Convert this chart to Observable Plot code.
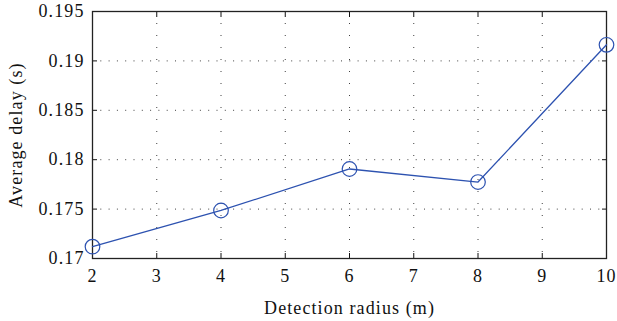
<!DOCTYPE html>
<html>
<head>
<meta charset="utf-8">
<script src="https://cdn.jsdelivr.net/npm/d3@7"></script>
<script src="https://cdn.jsdelivr.net/npm/@observablehq/plot@0.6"></script>
<style>
  body { margin: 0; background: #fff; }
  #chart svg { display: block; }
  #chart svg text { letter-spacing: 1.1px; }
</style>
</head>
<body>
<div id="chart"></div>
<script>
// Detection radius (m) and the measured average delay (s)
const radius = [2, 4, 6, 8, 10];
const avgDelay = [0.1712, 0.17486, 0.17906, 0.17774, 0.19163];

// Axis ticks
const xTicks = [2, 3, 4, 5, 6, 7, 8, 9, 10];
const yTicks = [0.17, 0.175, 0.18, 0.185, 0.19, 0.195];

const data = radius.map((r, i) => ({radius: r, delay: avgDelay[i]}));

const lineColor = "#2d52b0";
const serif = "Liberation Serif";
const textSize = 18;
const noLabel = () => "";

const chart = Plot.plot({
  width: 617,
  height: 321,
  marginLeft: 92,
  marginRight: 11,
  marginTop: 11,
  marginBottom: 63,
  style: `font-family: ${serif}; font-size: ${textSize}px; color: #111; background: #fff;`,
  x: {domain: [2, 10]},
  y: {domain: [0.17, 0.195]},
  marks: [
    // dotted grid
    Plot.gridX(xTicks, {stroke: "#000", strokeOpacity: 0.75, strokeDasharray: "1,11"}),
    Plot.gridY(yTicks, {stroke: "#000", strokeOpacity: 0.75, strokeDasharray: "1,7.3"}),
    // inward tick marks on all four sides
    Plot.axisX(xTicks, {anchor: "bottom", tickSize: -5, tickFormat: noLabel, label: null}),
    Plot.axisX(xTicks, {anchor: "top", tickSize: -5, tickFormat: noLabel, label: null}),
    Plot.axisY(yTicks, {anchor: "left", tickSize: -5, tickFormat: noLabel, label: null}),
    Plot.axisY(yTicks, {anchor: "right", tickSize: -5, tickFormat: noLabel, label: null}),
    // tick labels and titles
    Plot.axisX(xTicks, {anchor: "bottom", tickSize: 0, tickPadding: 11, label: "Detection radius (m)",
      labelAnchor: "center", labelArrow: "none", labelOffset: 55, fontFamily: serif, fontSize: textSize}),
    Plot.axisY(yTicks, {anchor: "left", tickSize: 0, tickPadding: 8, tickFormat: d => String(+d.toFixed(3)),
      label: "Average delay (s)", labelAnchor: "center", labelArrow: "none", labelOffset: 83,
      fontFamily: serif, fontSize: textSize}),
    Plot.frame({stroke: "#222", strokeWidth: 1.3}),
    // series
    Plot.line(data, {x: "radius", y: "delay", stroke: lineColor, strokeWidth: 1.3}),
    Plot.dot(data, {x: "radius", y: "delay", r: 7.3, stroke: lineColor, strokeWidth: 1.2, fill: "none"})
  ]
});

document.getElementById("chart").append(chart);
</script>
</body>
</html>
